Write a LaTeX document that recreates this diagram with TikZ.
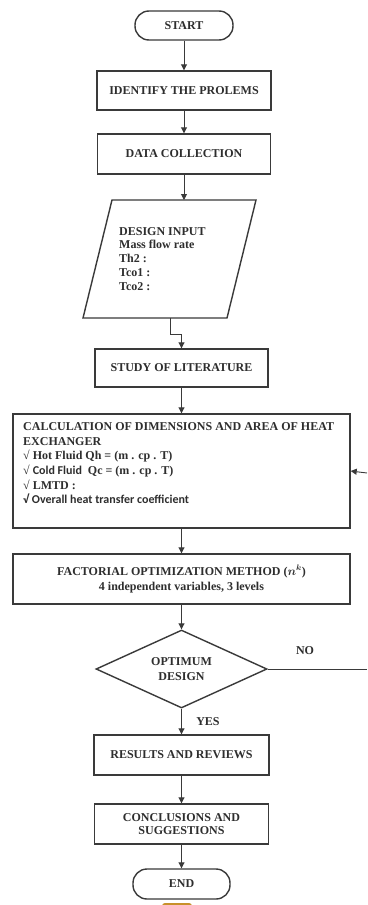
\documentclass[tikz,border=0pt]{standalone}
\usepackage{fontspec}
\setmainfont{Liberation Serif}
\newfontfamily\carl{Carlito}
\usetikzlibrary{shapes.geometric,arrows.meta}
\definecolor{ink}{HTML}{2E2E2E}
\definecolor{lin}{HTML}{3A3A3A}
\definecolor{orng}{HTML}{C8902A}
\tikzset{
  every node/.style={text=ink,font=\bfseries\fontsize{12}{13.8}\selectfont},
  procbox/.style={draw=lin,line width=1.4pt,rectangle,inner sep=0pt,align=center},
  termbox/.style={draw=lin,line width=1.4pt,rectangle,rounded corners=14pt,inner sep=0pt,align=center},
  decbox/.style={draw=lin,line width=1.4pt,diamond,aspect=2.2,inner sep=0pt,align=center},
  arr/.style={draw=lin,line width=0.9pt,-{Triangle[length=6pt,width=6pt]}},
  plain/.style={draw=lin,line width=0.9pt},
}
\begin{document}
\begin{tikzpicture}[x=1pt,y=-1pt]
\useasboundingbox (0,0) rectangle (367,905);
\fill[white] (0,0) rectangle (367,905);

\node[termbox,minimum width=98,minimum height=29] (start) at (184,25.5) {START};
\node[procbox,minimum width=174,minimum height=39] (ident) at (184,90.5) {IDENTIFY THE PROLEMS};
\node[procbox,minimum width=173,minimum height=40] (data) at (184,154) {DATA COLLECTION};

% design input parallelogram
\coordinate (din) at (169.5,259);
\coordinate (dintop) at (184,200);
\coordinate (dinb) at (170,318);
\draw[lin,line width=1.4pt] (112,200) -- (256,200) -- (227,318) -- (83,318) -- cycle;
\node[anchor=north west,align=left,inner sep=0pt] (dintext) at (119,227)
  {DESIGN INPUT\\Mass flow rate\\Th2 :\\Tco1 :\\Tco2 :};

\node[procbox,minimum width=173,minimum height=38] (study) at (181.5,368) {STUDY OF LITERATURE};

\node[procbox,minimum width=337,minimum height=114] (calc) at (181.5,471) {};
\node[anchor=north west,align=left,inner sep=0pt,font=\bfseries\fontsize{12}{14.6}\selectfont] (calctext) at (23,422.5)
  {CALCULATION OF DIMENSIONS AND AREA OF HEAT\\
   EXCHANGER\\
   √ Hot Fluid Qh = (m . cp . T)\\
   √ {\carl Cold Fluid}\ \ Qc = (m . cp . T)\\
   √ LMTD :\\
   {\carl √ Overall heat transfer coefficient}};

\node[procbox,minimum width=337,minimum height=50,font=\bfseries\fontsize{12}{15}\selectfont] (fact) at (181.5,579)
  {FACTORIAL OPTIMIZATION METHOD ({\boldmath$n^{k}$})\\4 independent variables, 3 levels};

\node[decbox,minimum width=171,minimum height=78,font=\bfseries\fontsize{12}{14.6}\selectfont] (dec) at (181.5,669) {OPTIMUM\\DESIGN};

\node[procbox,minimum width=175,minimum height=40] (res) at (181.5,755) {RESULTS AND REVIEWS};
\node[procbox,minimum width=174,minimum height=40] (conc) at (181.5,824) {CONCLUSIONS AND\\SUGGESTIONS};
\node[termbox,minimum width=97,minimum height=30] (end) at (181.5,884) {END};

% labels
\node (nolab) at (305,651) {NO};
\node (yeslab) at (208,722) {YES};

% connectors
\draw[arr] (start.south) -- (ident.north);
\draw[arr] (ident.south) -- (data.north);
\draw[arr] (data.south) -- (dintop);
\draw[arr] (dinb) -- ++(0,16) -| (study.north);
\draw[arr] (study.south) -- (calc.north);
\draw[arr] (calc.south) -- (fact.north);
\draw[arr] (fact.south) -- (dec.north);
\draw[arr] (dec.south) -- (res.north);
\draw[arr] (res.south) -- (conc.north);
\draw[arr] (conc.south) -- (end.north);

% feedback (cropped at the right edge)
\coordinate (noend) at (367,669);
\coordinate (fbstart) at (367,473);
\draw[plain] (dec.east) -- (noend);
\draw[arr] (fbstart) -- (calc.east);

% orange sliver at the bottom edge
\begin{scope}
\clip (0,0) rectangle (367,905);
\fill[orng,rounded corners=3pt] (162,903) rectangle (192,912);
\end{scope}
\end{tikzpicture}
\end{document}
